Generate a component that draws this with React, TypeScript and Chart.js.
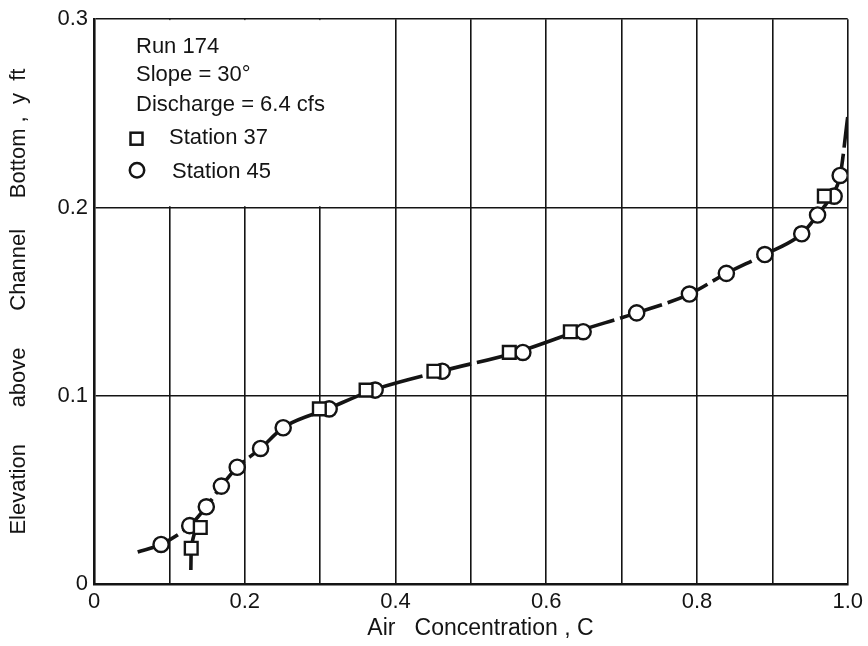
import React, { useEffect, useRef } from 'react';
import { Chart, registerables } from 'chart.js';

Chart.register(...registerables);

const FONT = '"Liberation Sans", Arial, sans-serif';
const INK = '#141414';

// Station 45 (circles)
const st45C = [0.089, 0.127, 0.149, 0.169, 0.190, 0.221, 0.251, 0.312, 0.373, 0.462, 0.569, 0.649, 0.720, 0.790, 0.839, 0.890, 0.939, 0.960, 0.982, 0.990];
const st45Y = [0.021, 0.031, 0.041, 0.052, 0.062, 0.072, 0.083, 0.093, 0.103, 0.113, 0.123, 0.134, 0.144, 0.154, 0.165, 0.175, 0.186, 0.196, 0.206, 0.217];

// Station 37 (squares)
const st37C = [0.129, 0.141, 0.299, 0.361, 0.451, 0.551, 0.632, 0.969];
const st37Y = [0.019, 0.030, 0.093, 0.103, 0.113, 0.123, 0.134, 0.206];

// Faired curve (main branch)
const curveC = [0.058, 0.089, 0.127, 0.149, 0.169, 0.190, 0.221, 0.251, 0.31, 0.37, 0.46, 0.56, 0.64, 0.720, 0.790, 0.839, 0.890, 0.939, 0.960, 0.978, 0.990, 1.0];
const curveY = [0.017, 0.021, 0.031, 0.041, 0.052, 0.062, 0.072, 0.083, 0.093, 0.103, 0.113, 0.123, 0.134, 0.144, 0.154, 0.165, 0.175, 0.186, 0.196, 0.206, 0.217, 0.248];

// Lower branch (Station 37)
const branchC = [0.1285, 0.129, 0.141];
const branchY = [0.0074, 0.019, 0.030];

const xTickLabels = ['0', '0.2', '0.4', '0.6', '0.8', '1.0'];
const yTickLabels = ['0', '0.1', '0.2', '0.3'];
const noteLines = ['Run 174', 'Slope = 30°', 'Discharge = 6.4 cfs'];
const seriesNames = ['Station 37', 'Station 45'];
const xTitle = '   Air   Concentration , C';
const yTitle = 'Elevation      above      Channel     Bottom ,  y  ft';
// note box region (data units) where the grid is left blank
const noteBoxC = [0, 0.4];
const noteBoxY = [0.2, 0.3];

const pts = (xs: number[], ys: number[]) => xs.map((x, i) => ({ x, y: ys[i] }));

const notePlugin = {
  id: 'notes',
  beforeDatasetsDraw(chart: any) {
    const { ctx } = chart;
    const xs = chart.scales.x;
    const ys = chart.scales.y;
    const x0 = xs.getPixelForValue(noteBoxC[0]) + 2;
    const x1 = xs.getPixelForValue(noteBoxC[1]) - 1.5;
    const y0 = ys.getPixelForValue(noteBoxY[1]) + 0.9;
    const y1 = ys.getPixelForValue(noteBoxY[0]) - 1.2;
    ctx.save();
    ctx.fillStyle = '#ffffff';
    ctx.fillRect(x0, y0, x1 - x0, y1 - y0);
    ctx.restore();
  },
  afterDraw(chart: any) {
    const { ctx, chartArea } = chart;
    const L = chartArea.left;
    const T = chartArea.top;
    ctx.save();
    ctx.fillStyle = INK;
    ctx.strokeStyle = INK;
    ctx.font = `22px ${FONT}`;
    ctx.textBaseline = 'alphabetic';
    ctx.textAlign = 'left';
    const base = [34, 62, 92];
    noteLines.forEach((t, i) => ctx.fillText(t, L + 42, T + base[i]));
    // Station 37 marker (square)
    ctx.lineWidth = 2.5;
    ctx.fillStyle = '#fff';
    ctx.fillRect(L + 36.5, T + 113.5, 12, 12);
    ctx.strokeRect(L + 36.5, T + 113.5, 12, 12);
    ctx.fillStyle = INK;
    ctx.fillText(seriesNames[0], L + 75, T + 125);
    // Station 45 marker (circle)
    ctx.beginPath();
    ctx.arc(L + 43, T + 151, 7.2, 0, Math.PI * 2);
    ctx.stroke();
    ctx.fillText(seriesNames[1], L + 78, T + 159);
    ctx.restore();
  },
};

export default function App() {
  const ref = useRef<HTMLCanvasElement>(null);
  useEffect(() => {
    document.body.style.margin = '0';
    const chart = new Chart(ref.current as HTMLCanvasElement, {
      type: 'scatter',
      data: {
        datasets: [
          {
            label: 'curve',
            data: pts(curveC, curveY),
            showLine: true,
            borderColor: INK,
            borderWidth: 3.6,
            borderDash: [44, 6],
            borderCapStyle: 'butt',
            pointRadius: 0,
            cubicInterpolationMode: 'monotone',
            fill: false,
            order: 3,
          } as any,
          {
            label: 'branch',
            data: pts(branchC, branchY),
            showLine: true,
            borderColor: INK,
            borderWidth: 3.6,
            borderDash: [44, 6],
            pointRadius: 0,
            cubicInterpolationMode: 'monotone',
            fill: false,
            order: 3,
          } as any,
          {
            label: seriesNames[1],
            data: pts(st45C, st45Y),
            showLine: false,
            pointStyle: 'circle',
            pointRadius: 7.6,
            pointBorderWidth: 2.4,
            pointBackgroundColor: '#ffffff',
            pointBorderColor: INK,
            order: 1,
          } as any,
          {
            label: seriesNames[0],
            data: pts(st37C, st37Y),
            showLine: false,
            pointStyle: 'rect',
            pointRadius: 9,
            pointBorderWidth: 2.4,
            pointBackgroundColor: '#ffffff',
            pointBorderColor: INK,
            order: 0,
          } as any,
        ],
      },
      options: {
        responsive: false,
        animation: false,
        layout: { padding: { left: 0, right: 18, top: 18, bottom: 0 } },
        plugins: { legend: { display: false }, tooltip: { enabled: false } },
        scales: {
          x: {
            type: 'linear',
            min: 0,
            max: 1,
            afterFit: (s: any) => { s.height = 62; },
            grid: { color: INK, lineWidth: 1.6, drawTicks: false },
            border: { color: INK, width: 2.6 },
            ticks: {
              stepSize: 0.1,
              autoSkip: false,
              maxRotation: 0,
              padding: 5,
              color: INK,
              font: { family: FONT, size: 22 },
              callback: (v: any) => {
                const i = Math.round(Number(v) * 10);
                return i % 2 === 0 ? xTickLabels[i / 2] : '';
              },
            },
            title: {
              display: true,
              text: xTitle,
              color: INK,
              font: { family: FONT, size: 23 },
              padding: { top: 0, bottom: 4 },
            },
          },
          y: {
            type: 'linear',
            min: 0,
            max: 0.3,
            afterFit: (s: any) => { s.width = 94; },
            grid: { color: INK, lineWidth: 1.6, drawTicks: false },
            border: { color: INK, width: 2.6 },
            ticks: {
              stepSize: 0.1,
              autoSkip: false,
              padding: 6,
              color: INK,
              font: { family: FONT, size: 22 },
              callback: (v: any) => yTickLabels[Math.round(Number(v) * 10)],
            },
            title: {
              display: true,
              text: yTitle,
              color: INK,
              font: { family: FONT, size: 22 },
              padding: { top: 6, bottom: 0 },
            },
          },
        },
      } as any,
      plugins: [notePlugin],
    });
    return () => chart.destroy();
  }, []);
  return <canvas ref={ref} width={868} height={646} style={{ display: 'block' }} />;
}
